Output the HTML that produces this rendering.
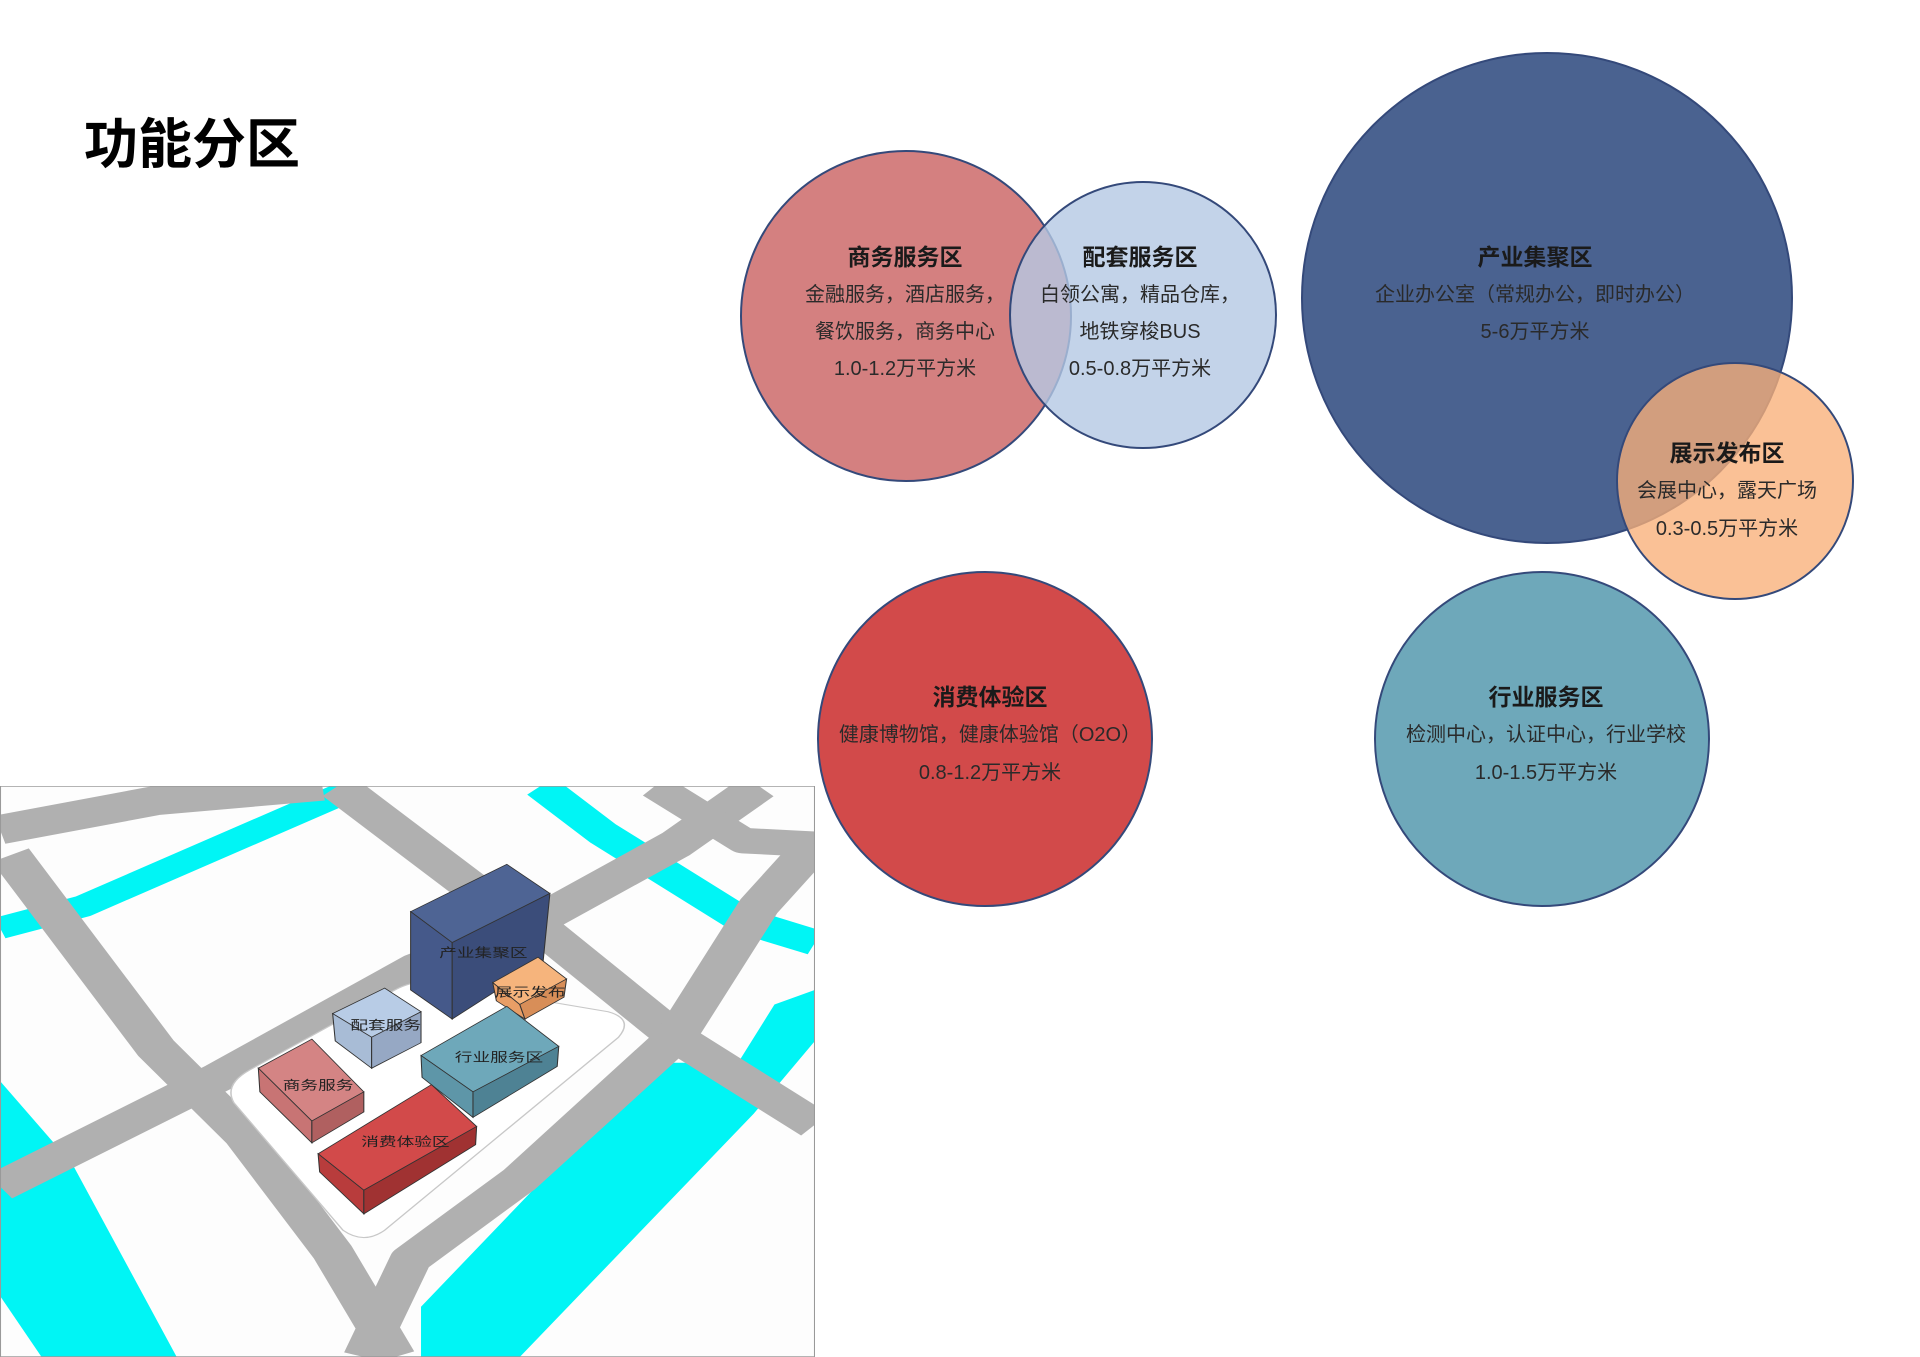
<!DOCTYPE html>
<html><head><meta charset="utf-8"><style>
html,body{margin:0;padding:0;background:#fff;}
body{width:1920px;height:1357px;position:relative;overflow:hidden;font-family:"Liberation Sans","Noto Sans CJK SC",sans-serif;}
.t{position:absolute;left:84px;top:100px;font-size:54px;font-weight:bold;color:#000;}
svg{position:absolute;}
</style></head><body>
<div class="t">功能分区</div>

<svg style="left:0;top:786px" width="815" height="571" viewBox="0 0 1568 1568" preserveAspectRatio="none">
<rect x="0" y="0" width="1568" height="1568" fill="#fdfdfd"/>
<g fill="none" stroke-linejoin="round">
<polyline points="0,390 160,330 660,20" stroke="#00f5f5" stroke-width="60"/>
<polyline points="1040,0 1160,130 1430,370 1568,430" stroke="#00f5f5" stroke-width="70"/>
</g>
<polygon points="0,810 140,1040 340,1568 80,1568 0,1400" fill="#00f5f5"/>
<polygon points="810,1430 1260,760 1420,760 1490,600 1568,560 1568,700 1450,900 1000,1568 810,1568" fill="#00f5f5"/>
<g fill="none" stroke="#b0b0b0" stroke-linejoin="round">
<polyline points="0,120 300,40 620,0" stroke-width="80"/>
<polyline points="20,190 300,720 470,960 640,1280 760,1568" stroke-width="80"/>
<polyline points="650,0 900,270 1040,410" stroke-width="80"/>
<polyline points="0,1100 420,800 800,500 1020,380 1300,160 1460,0" stroke-width="80"/>
<polyline points="1260,0 1430,150 1568,160" stroke-width="70"/>
<polyline points="1040,390 1300,690 1568,930" stroke-width="80"/>
<polyline points="700,1568 790,1300 1000,1080 1300,690 1460,330 1568,160" stroke-width="80"/>
</g>
<path d="M480,780 L760,560 Q800,530 840,540 L1170,620 Q1220,640 1190,690 L740,1220 Q700,1260 660,1220 L450,870 Q430,820 480,780Z" fill="#fff" stroke="#c8c8c8" stroke-width="3"/>
<rect x="1" y="1" width="1566" height="1566" fill="none" stroke="#999" stroke-width="2"/>
<g stroke="#333" stroke-width="2">
<polygon points="790,345 975,215 1058,295 870,430" fill="#4e6494"/>
<polygon points="790,345 870,430 870,640 790,560" fill="#45598a"/>
<polygon points="870,430 1058,295 1045,480 870,640" fill="#3b4d7a"/>
<polygon points="948,540 1035,470 1090,530 1000,600" fill="#f6b47c"/>
<polygon points="948,540 1000,600 1010,640 955,590" fill="#e89e66"/>
<polygon points="1000,600 1090,530 1085,580 1010,640" fill="#d88e58"/>
<polygon points="640,625 740,555 810,620 715,690" fill="#b8cce6"/>
<polygon points="640,625 715,690 715,775 645,700" fill="#a8bcd6"/>
<polygon points="715,690 810,620 810,705 715,775" fill="#96a8c4"/>
<polygon points="497,775 600,695 700,840 600,920" fill="#d48484"/>
<polygon points="497,775 600,920 600,980 500,840" fill="#c87474"/>
<polygon points="600,920 700,840 700,895 600,980" fill="#b06060"/>
<polygon points="810,740 975,605 1075,715 910,840" fill="#6ea8ba"/>
<polygon points="810,740 910,840 910,910 812,800" fill="#5e96a8"/>
<polygon points="910,840 1075,715 1072,770 910,910" fill="#4e8294"/>
<polygon points="612,1010 830,820 917,935 700,1110" fill="#d24a4a"/>
<polygon points="612,1010 700,1110 700,1175 615,1060" fill="#b83c3c"/>
<polygon points="700,1110 917,935 915,985 700,1175" fill="#a03232"/>
</g>
<g fill="#222" text-anchor="middle" font-family="Liberation Sans,Noto Sans CJK SC,sans-serif" font-size="34">
<text x="930" y="470">产业集聚区</text>
<text x="1020" y="578">展示发布</text>
<text x="742" y="668">配套服务</text>
<text x="960" y="757">行业服务区</text>
<text x="612" y="833">商务服务</text>
<text x="780" y="988">消费体验区</text>
</g>
</svg>

<svg style="left:0;top:0" width="1920" height="1357">
<g stroke="#34497a" stroke-width="2">
<circle cx="906" cy="316" r="165" fill="#d48080"/>
<circle cx="1143" cy="315" r="133" fill="#b4c8e4" fill-opacity="0.8"/>
<circle cx="1547" cy="298" r="245" fill="#4a6290"/>
<circle cx="1735" cy="481" r="118" fill="#f8b078" fill-opacity="0.78"/>
<circle cx="985" cy="739" r="167" fill="#d24a4a"/>
<circle cx="1542" cy="739" r="167" fill="#6ea8ba"/>
</g>
<g font-family="Liberation Sans,Noto Sans CJK SC,sans-serif" text-anchor="middle" dominant-baseline="central" fill="#1a1a1a">
<g font-size="23" font-weight="bold">
<text x="905" y="257">商务服务区</text>
<text x="1140" y="257">配套服务区</text>
<text x="1535" y="257">产业集聚区</text>
<text x="1727" y="453">展示发布区</text>
<text x="990" y="697">消费体验区</text>
<text x="1546" y="697">行业服务区</text>
</g>
<g font-size="20" fill="#2a2a2a">
<text x="905" y="295">金融服务，酒店服务，</text>
<text x="905" y="332">餐饮服务，商务中心</text>
<text x="905" y="369">1.0-1.2万平方米</text>
<text x="1140" y="295">白领公寓，精品仓库，</text>
<text x="1140" y="332">地铁穿梭BUS</text>
<text x="1140" y="369">0.5-0.8万平方米</text>
<text x="1535" y="295">企业办公室（常规办公，即时办公）</text>
<text x="1535" y="332">5-6万平方米</text>
<text x="1727" y="491">会展中心，露天广场</text>
<text x="1727" y="529">0.3-0.5万平方米</text>
<text x="990" y="735">健康博物馆，健康体验馆（O2O）</text>
<text x="990" y="773">0.8-1.2万平方米</text>
<text x="1546" y="735">检测中心，认证中心，行业学校</text>
<text x="1546" y="773">1.0-1.5万平方米</text>
</g></g>
</svg>
</body></html>
